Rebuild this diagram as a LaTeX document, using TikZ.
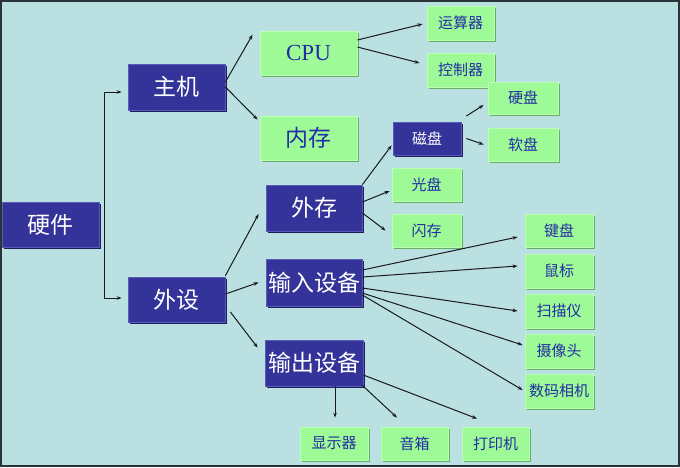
\documentclass[tikz,border=0pt]{standalone}
\usepackage{fontspec}
\setmainfont{Liberation Serif}
\newfontfamily\cjk{Noto Sans CJK SC}
\usetikzlibrary{arrows.meta,calc,shadows}
\definecolor{bgc}{RGB}{186,224,226}
\definecolor{framec}{RGB}{40,52,56}
\definecolor{nblue}{RGB}{51,51,153}
\definecolor{nblueedge}{RGB}{90,90,185}
\definecolor{bshadow}{RGB}{28,28,90}
\definecolor{ngreen}{RGB}{158,250,150}
\definecolor{ngreenedge}{RGB}{185,255,180}
\definecolor{gshadow}{RGB}{100,175,100}
\definecolor{gtext}{RGB}{35,45,165}
\definecolor{linec}{RGB}{25,25,30}
\newcommand\mybox[7]{\node[#6, minimum width={#4pt-#2pt}, minimum height={#5pt-#3pt}] (#1) at ({(#2+#4)/2},{(#3+#5)/2}) {#7};}
\begin{document}
\begin{tikzpicture}[x=1pt,y=-1pt,
  basebox/.style={rectangle, inner sep=0pt, line width=0.8pt},
  bigblue/.style={basebox, fill=nblue, draw=nblueedge, text=white,
    font=\cjk\fontsize{23}{23}\selectfont,
    drop shadow={shadow xshift=1.6pt, shadow yshift=-1.6pt, fill=bshadow, opacity=1}},
  smallblue/.style={bigblue, font=\cjk\fontsize{15}{15}\selectfont},
  biggreen/.style={basebox, fill=ngreen, draw=ngreenedge, text=gtext,
    font=\cjk\fontsize{23}{23}\selectfont,
    drop shadow={shadow xshift=1.6pt, shadow yshift=-1.6pt, fill=gshadow, opacity=1}},
  smallgreen/.style={biggreen, font=\cjk\fontsize{15}{15}\selectfont},
  arr/.style={draw=linec, line width=1pt, -{Stealth[length=5pt,width=3.6pt]}},
  barr/.style={draw=linec, line width=1pt, {Stealth[length=5pt,width=3.6pt]}-{Stealth[length=5pt,width=3.6pt]}}]
\useasboundingbox (0,0) rectangle (680,467);
\fill[bgc] (0,0) rectangle (680,467);
\draw[framec, line width=2pt] (1,1) rectangle (679,466);

\mybox{yingjian}{2}{202}{99}{247}{bigblue}{硬件}
\mybox{zhuji}{128}{64}{225}{110}{bigblue}{主机}
\mybox{waishe}{128}{277}{225}{322}{bigblue}{外设}
\mybox{cpu}{260}{31}{357}{75}{biggreen}{\rmfamily CPU}
\mybox{neicun}{260}{116}{357}{160}{biggreen}{内存}
\mybox{ysq}{427}{6}{494}{40}{smallgreen}{运算器}
\mybox{kzq}{427}{53}{494}{87}{smallgreen}{控制器}
\mybox{cipan}{393}{122}{461}{155}{smallblue}{磁盘}
\mybox{yingpan}{488}{82}{558}{114}{smallgreen}{硬盘}
\mybox{ruanpan}{488}{128}{558}{161}{smallgreen}{软盘}
\mybox{waicun}{266}{185}{362}{231}{bigblue}{外存}
\mybox{guangpan}{392}{168}{461}{201}{smallgreen}{光盘}
\mybox{shancun}{392}{214}{461}{247}{smallgreen}{闪存}
\mybox{shuru}{266}{259}{362}{306}{bigblue}{输入设备}
\mybox{jianpan}{525}{214}{593}{247}{smallgreen}{键盘}
\mybox{shubiao}{525}{254}{593}{288}{smallgreen}{鼠标}
\mybox{saomiao}{525}{294}{593}{328}{smallgreen}{扫描仪}
\mybox{shexiang}{525}{334}{593}{368}{smallgreen}{摄像头}
\mybox{shuma}{525}{374}{593}{408}{smallgreen}{数码相机}
\mybox{shuchu}{265}{340}{363}{386}{bigblue}{输出设备}
\mybox{xianshi}{300}{427}{368}{460}{smallgreen}{显示器}
\mybox{yinxiang}{381}{427}{448}{460}{smallgreen}{音箱}
\mybox{dayin}{462}{427}{529}{460}{smallgreen}{打印机}

% bracket from 硬件 level
\draw[barr] ([shift={(-6,5)}]zhuji.west) -- ++(-17,0) |- ([shift={(-6,-1.5)}]waishe.west);
% 主机
\draw[arr] ([shift={(0,-5)}]zhuji.east) -- ([shift={(-7,4)}]cpu.north west);
\draw[arr] (zhuji.east) -- ([shift={(-2,4)}]neicun.north west);
% CPU
\draw[arr] ([shift={(0,-13)}]cpu.east) -- ([shift={(-4,1)}]ysq.west);
\draw[arr] ([shift={(0,-6)}]cpu.east) -- ([shift={(-7,-7)}]kzq.west);
% 外设
\draw[arr] ([shift={(0,-1)}]waishe.north east) -- ([shift={(-7,6)}]waicun.west);
\draw[arr] ([shift={(0,-5.5)}]waishe.east) -- ([shift={(-7,0)}]shuru.west);
\draw[arr] ([shift={(5,12.5)}]waishe.east) -- ([shift={(-7,8)}]shuchu.north west);
% 外存
\draw[arr] (waicun.north east) -- ([shift={(-1,-10)}]cipan.south west);
\draw[arr] ([shift={(0,-6)}]waicun.east) -- ([shift={(-2,6.5)}]guangpan.west);
\draw[arr] ([shift={(0,5)}]waicun.east) -- ([shift={(-6,0)}]shancun.west);
% 磁盘
\draw[arr] ([shift={(5,-22.5)}]cipan.east) -- ([shift={(-4,7)}]yingpan.west);
\draw[arr] ([shift={(5,0)}]cipan.east) -- ([shift={(-4,0)}]ruanpan.west);
% 输入设备
\draw[arr] ([shift={(0,-12.5)}]shuru.east) -- ([shift={(-7,6.5)}]jianpan.west);
\draw[arr] ([shift={(0,-5.5)}]shuru.east) -- ([shift={(-7,-5)}]shubiao.west);
\draw[arr] ([shift={(0,5.5)}]shuru.east) -- ([shift={(-7,0)}]saomiao.west);
\draw[arr] ([shift={(0,10.5)}]shuru.east) -- ([shift={(-2,-6)}]shexiang.west);
\draw[arr] ([shift={(0,12.5)}]shuru.east) -- ([shift={(-2,-1)}]shuma.west);
% 输出设备
\draw[arr] ([shift={(21,0)}]shuchu.south) -- ([shift={(1,-9)}]xianshi.north);
\draw[arr] ([shift={(-1,-1)}]shuchu.south east) -- ([shift={(-17.5,-9)}]yinxiang.north);
\draw[arr] ([shift={(0,12)}]shuchu.east) -- ([shift={(-18.5,-8)}]dayin.north);
\end{tikzpicture}
\end{document}
